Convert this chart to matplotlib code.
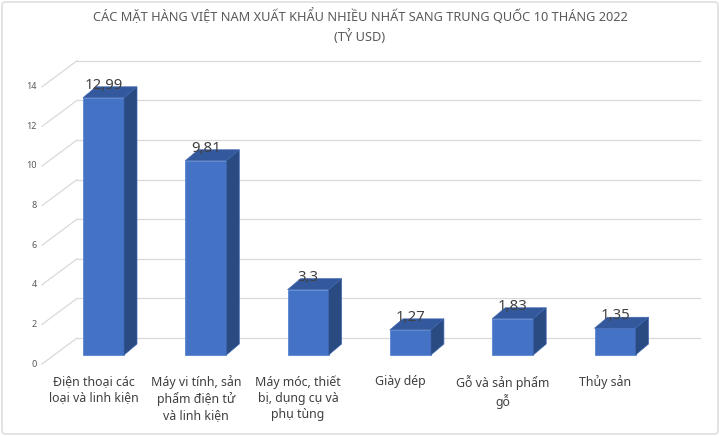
import matplotlib
matplotlib.use("Agg")
import matplotlib.pyplot as plt
from matplotlib.patches import Polygon, FancyBboxPatch

plt.rcParams['font.family'] = ['Noto Sans', 'DejaVu Sans']

# Dữ liệu (tỷ USD)
categories = [
    "Điện thoại các\nloại và linh kiện",
    "Máy vi tính, sản\nphẩm điện tử\nvà linh kiện",
    "Máy móc, thiết\nbị, dụng cụ và\nphụ tùng",
    "Giày dép",
    "Gỗ và sản phẩm\ngỗ",
    "Thủy sản",
]
values = [12.99, 9.81, 3.3, 1.27, 1.83, 1.35]
y_ticks = [0, 2, 4, 6, 8, 10, 12, 14]
title = "CÁC MẶT HÀNG VIỆT NAM XUẤT KHẨU NHIỀU NHẤT SANG TRUNG QUỐC 10 THÁNG 2022\n(TỶ USD)"

# hình học theo pixel
W, H = 720, 436
x0_px, step_px = 103.5, 102.3
base_px, unit_px = 355, 19.8

def px_x(d):
    return d / step_px

def px_y(d):
    return d / unit_px

front_col = '#4472C4'
top_col = '#34589C'
side_col = '#2A4A82'
grid_col = '#D9D9D9'
text_col = '#404040'
axis_col = '#595959'

fig = plt.figure(figsize=(7.2, 4.36), dpi=100)
ax = fig.add_axes([0, 0, 1, 1])
ax.set_xlim(-x0_px / step_px, (W - x0_px) / step_px)
ax.set_ylim((base_px - H) / unit_px, base_px / unit_px)
ax.axis('off')

# tường sau + đường chéo
wall_x0 = px_x(42 - x0_px)
wall_x1 = px_x(77 - x0_px)
wall_x2 = px_x(700 - x0_px)
front_off = px_y(-9)
back_off = px_y(17)
for t in y_ticks:
    ax.plot([wall_x1, wall_x2], [t + back_off, t + back_off], color=grid_col, lw=0.9, zorder=1)
    ax.plot([wall_x0, wall_x1], [t + front_off, t + back_off], color=grid_col, lw=0.9, zorder=1)
    ax.text(px_x(37 - x0_px), t + front_off, str(t), ha='right', va='center',
            fontsize=6.5, color=axis_col)

# cột 3D
xs = list(range(len(values)))
bw = px_x(41)
ddx, ddy = px_x(13), px_y(11)
ax.bar(xs, values, width=bw, color=front_col, edgecolor='#5A87D2', lw=0.6, zorder=3)
for x, v in zip(xs, values):
    l, r = x - bw / 2, x + bw / 2
    ax.add_patch(Polygon([(l, v), (r, v), (r + ddx, v + ddy), (l + ddx, v + ddy)],
                         closed=True, facecolor=top_col, edgecolor='#3F66B0', lw=0.5, zorder=3))
    ax.add_patch(Polygon([(r, 0), (r, v), (r + ddx, v + ddy), (r + ddx, ddy)],
                         closed=True, facecolor=side_col, edgecolor='#3F66B0', lw=0.5, zorder=3))
    ax.text(x, v + px_y(9), f"{v:g}".replace('.', ','), ha='center', va='baseline',
            fontsize=10.8, color=text_col, zorder=4)

# nhãn danh mục
for x, c in zip(xs, categories):
    ax.text(x - px_x(10), px_y(-20), c, ha='center', va='top', fontsize=8.9,
            color=text_col, linespacing=1.3)

fig.text(0.5, 1 - 8 / H, title, ha='center', va='top', fontsize=9.2,
         color=axis_col, linespacing=1.4)

# khung biểu đồ
frame = FancyBboxPatch((2 / W, 2 / H), 1 - 4 / W, 1 - 4 / H, boxstyle="round,pad=0,rounding_size=0.006",
                       transform=fig.transFigure, facecolor='none', edgecolor='#D9D9D9', lw=1)
fig.patches.append(frame)

fig.savefig("out.png", dpi=100)
